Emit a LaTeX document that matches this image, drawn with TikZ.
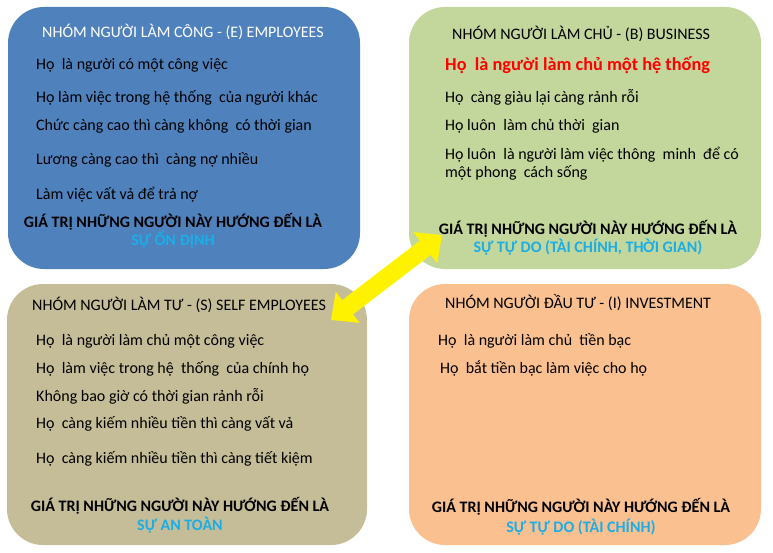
\documentclass[tikz,border=0pt]{standalone}
\usepackage{fontspec}
\setmainfont{Carlito}
\usepackage{tikz}
\usetikzlibrary{arrows.meta}

\definecolor{empBlue}{HTML}{4F81BD}
\definecolor{busGreen}{HTML}{C3D69B}
\definecolor{selfTan}{HTML}{C4BD97}
\definecolor{invPeach}{HTML}{FAC090}
\definecolor{valueCyan}{HTML}{1AAEE8}

\tikzset{
  groupbox/.style={rounded corners=36pt,inner sep=0pt,minimum width=352pt,minimum height=262pt},
  grouptitle/.style={anchor=base west,inner sep=0pt,font=\fontsize{16}{19}\selectfont},
  groupline/.style={anchor=base west,inner sep=0pt,font=\fontsize{16}{19}\selectfont},
  valueline/.style={anchor=base,inner sep=0pt,font=\bfseries\fontsize{16}{19}\selectfont},
  valuetext/.style={anchor=base,inner sep=0pt,text=valueCyan,font=\bfseries\fontsize{16}{19}\selectfont}
}

\begin{document}
\begin{tikzpicture}[x=1pt,y=-1pt]
  \useasboundingbox (0,0) rectangle (773,553);
  % the four groups
  \node[groupbox,fill=empBlue] (emp) at (184,138) {};
  \node[groupbox,fill=busGreen] (bus) at (585,138) {};
  \node[groupbox,fill=selfTan,minimum width=360pt,minimum height=261pt] (self) at (187,414.5) {};
  \node[groupbox,fill=invPeach,minimum height=261pt] (inv) at (585,414.5) {};

  % employees
  \node[grouptitle,text=white] (empTitle) at (42,38) {NHÓM NGƯỜI LÀM CÔNG - (E) EMPLOYEES};
  \node[groupline] (empA) at (36,70) {Họ\ \ là người có một công việc};
  \node[groupline] (empB) at (36,103) {Họ làm việc trong hệ thống\ \ của người khác};
  \node[groupline] (empC) at (36,131) {Chức càng cao thì càng không\ \ có thời gian};
  \node[groupline] (empD) at (36,165) {Lương càng cao thì\ \ càng nợ nhiều};
  \node[groupline] (empE) at (36,200) {Làm việc vất vả để trả nợ};
  \node[valueline] (empValue) at (173,228) {GIÁ TRỊ NHỮNG NGƯỜI NÀY HƯỚNG ĐẾN LÀ};
  \node[valuetext] (empGoal) at (173,246) {SỰ ỔN ĐỊNH};

  % business
  \node[grouptitle] (busTitle) at (452,40) {NHÓM NGƯỜI LÀM CHỦ - (B) BUSINESS};
  \node[groupline,text=red,font=\bfseries\fontsize{18.3}{22}\selectfont] (busA) at (445,71) {Họ\ \ là người làm chủ một hệ thống};
  \node[groupline] (busB) at (445,103) {Họ\ \ càng giàu lại càng rảnh rỗi};
  \node[groupline] (busC) at (445,131) {Họ luôn\ \ làm chủ thời\ \ gian};
  \node[groupline] (busD) at (445,160) {Họ luôn\ \ là người làm việc thông\ \ minh\ \ để có};
  \node[groupline] (busE) at (445,178) {một phong\ \ cách sống};
  \node[valueline] (busValue) at (588,235) {GIÁ TRỊ NHỮNG NGƯỜI NÀY HƯỚNG ĐẾN LÀ};
  \node[valuetext] (busGoal) at (588,253) {SỰ TỰ DO (TÀI CHÍNH, THỜI GIAN)};

  % self employees
  \node[grouptitle] (selfTitle) at (32,310) {NHÓM NGƯỜI LÀM TƯ - (S) SELF EMPLOYEES};
  \node[groupline] (selfA) at (36,345) {Họ\ \ là người làm chủ một công việc};
  \node[groupline] (selfB) at (36,373) {Họ\ \ làm việc trong hệ\ \ thống\ \ của chính họ};
  \node[groupline] (selfC) at (36,401) {Không bao giờ có thời gian rảnh rỗi};
  \node[groupline] (selfD) at (36,428) {Họ\ \ càng kiếm nhiều tiền thì càng vất vả};
  \node[groupline] (selfE) at (36,463) {Họ\ \ càng kiếm nhiều tiền thì càng tiết kiệm};
  \node[valueline] (selfValue) at (180,511) {GIÁ TRỊ NHỮNG NGƯỜI NÀY HƯỚNG ĐẾN LÀ};
  \node[valuetext] (selfGoal) at (180,530) {SỰ AN TOÀN};

  % investment
  \node[grouptitle] (invTitle) at (445,308) {NHÓM NGƯỜI ĐẦU TƯ - (I) INVESTMENT};
  \node[groupline] (invA) at (438,345) {Họ\ \ là người làm chủ\ \ tiền bạc};
  \node[groupline] (invB) at (440,373) {Họ\ \ bắt tiền bạc làm việc cho họ};
  \node[valueline] (invValue) at (581,512) {GIÁ TRỊ NHỮNG NGƯỜI NÀY HƯỚNG ĐẾN LÀ};
  \node[valuetext] (invGoal) at (581,532) {SỰ TỰ DO (TÀI CHÍNH)};

  % the arrow between S and B
  \coordinate (selfTip) at (331,320);
  \coordinate (busTip) at (442,235);
  \draw[yellow,line width=18pt,{Triangle[length=21pt,width=38pt]}-{Triangle[length=21pt,width=38pt]}] (selfTip) -- (busTip);
\end{tikzpicture}
\end{document}
